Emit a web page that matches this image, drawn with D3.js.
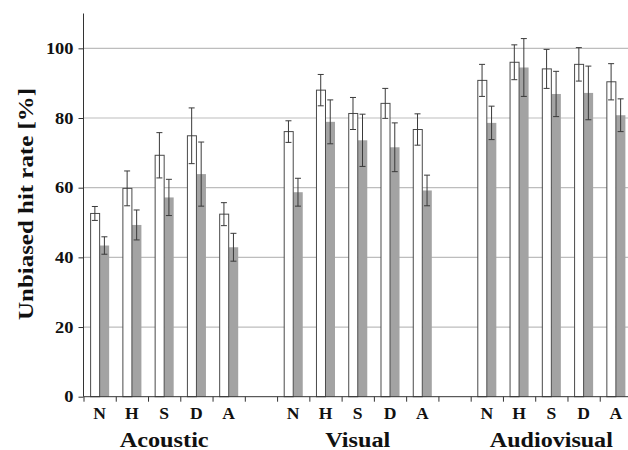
<!DOCTYPE html>
<html>
<head>
<meta charset="utf-8">
<script src="https://cdn.jsdelivr.net/npm/d3@7"></script>
<style>
  body { margin: 0; background: #fff; }
  text { font-family: "Liberation Serif", "Times New Roman", serif; font-weight: bold; fill: #111; }
</style>
</head>
<body>
<div class="plot"></div>
<script>
// data
const groups = ["Acoustic", "Visual", "Audiovisual"];
const categories = ["N", "H", "S", "D", "A"];
const yTicks = [0, 20, 40, 60, 80, 100];

// white bars (per group, N H S D A)
const whiteMean = [
    [52.6, 59.8, 69.3, 74.9, 52.4],
    [76.1, 88.0, 81.3, 84.2, 76.7],
    [90.8, 96.0, 94.1, 95.4, 90.4]
];
const whiteErr = [
    [2.0, 5.0, 6.5, 8.0, 3.3],
    [3.1, 4.5, 4.6, 4.3, 4.5],
    [4.6, 5.0, 5.6, 4.8, 5.2]
];
// gray bars
const grayMean = [
    [43.4, 49.3, 57.2, 63.9, 42.9],
    [58.7, 78.9, 73.6, 71.6, 59.2],
    [78.6, 94.5, 86.9, 87.2, 80.8]
];
const grayErr = [
    [2.5, 4.3, 5.2, 9.2, 4.0],
    [4.0, 6.3, 7.5, 7.0, 4.4],
    [4.8, 8.3, 6.5, 7.7, 4.7]
];

const width = 628, height = 450;
const plot = {left: 83.5, right: 632, top: 13.5, bottom: 396.7};

// one band per category plus an empty band between groups
const slots = [];
groups.forEach((g, gi) => {
    categories.forEach(c => slots.push(g + "-" + c));
    if (gi < groups.length - 1) slots.push("gap" + gi);
});

const xScale = d3.scaleBand().domain(slots).range([plot.left, plot.right]).padding(0);
const bw = xScale.bandwidth();
const inner = d3.scaleBand().domain(["white", "gray"]).range([bw * 0.205, bw * 0.795]).padding(0);
const yScale = d3.scaleLinear().domain([0, 110]).range([plot.bottom, plot.top]);
const edgeScale = d3.scaleLinear().domain([0, slots.length]).range([plot.left, plot.right]);

const rows = [];
groups.forEach((g, gi) => {
    categories.forEach((c, ci) => {
        rows.push({slot: g + "-" + c, s: "gray", v: grayMean[gi][ci], e: grayErr[gi][ci]});
        rows.push({slot: g + "-" + c, s: "white", v: whiteMean[gi][ci], e: whiteErr[gi][ci]});
    });
});

const svg = d3.select('.plot')
    .append('svg')
    .attr('width', width)
    .attr('height', height);

// gridlines
svg.append('g')
    .selectAll('line')
    .data(yTicks.filter(d => d > 0))
    .enter().append('line')
    .attr('x1', plot.left).attr('x2', width)
    .attr('y1', d => yScale(d)).attr('y2', d => yScale(d))
    .attr('stroke', '#bdbdbd')
    .attr('stroke-width', 1.2);

// bars
const bars = svg.append('g').selectAll('g')
    .data(rows)
    .enter().append('g')
    .attr('transform', d => `translate(${xScale(d.slot) + inner(d.s)},0)`);

bars.append('rect')
    .attr('x', d => d.s === "white" ? 0.5 : 0)
    .attr('width', d => d.s === "white" ? inner.bandwidth() - 0.5 : inner.bandwidth())
    .attr('y', d => yScale(d.v))
    .attr('height', d => yScale(0) - yScale(d.v))
    .attr('fill', d => d.s === "white" ? '#fff' : '#a3a3a3')
    .attr('stroke', d => d.s === "white" ? '#4a4a4a' : 'none')
    .attr('stroke-width', 1);

// error bars
const cx = inner.bandwidth() / 2;
bars.append('line')
    .attr('x1', cx).attr('x2', cx)
    .attr('y1', d => yScale(d.v + d.e)).attr('y2', d => yScale(d.v - d.e))
    .attr('stroke', '#3a3a3a').attr('stroke-width', 1);
bars.selectAll('.cap')
    .data(d => [d.v + d.e, d.v - d.e])
    .enter().append('line')
    .attr('class', 'cap')
    .attr('x1', cx - 3).attr('x2', cx + 3)
    .attr('y1', d => yScale(d)).attr('y2', d => yScale(d))
    .attr('stroke', '#3a3a3a').attr('stroke-width', 1);

// Y axis
const yAxis = svg.append('g')
    .attr('transform', `translate(${plot.left},0)`)
    .call(d3.axisLeft(yScale).tickValues(yTicks).tickSize(5).tickPadding(5));
yAxis.select('.domain').attr('d', `M0,${plot.top}V${plot.bottom}`).attr('stroke', '#333');
yAxis.selectAll('.tick line').attr('stroke', '#333');
yAxis.selectAll('.tick text')
    .style('font-size', '16px')
    .style('font-family', '"Liberation Serif", serif')
    .style('font-weight', 'bold')
    .attr('fill', '#111')
    .attr('textLength', d => String(d).length * 9.2)
    .attr('lengthAdjust', 'spacingAndGlyphs');

// X axis: ticks at band edges
const xAxis = svg.append('g')
    .attr('transform', `translate(0,${plot.bottom})`)
    .call(d3.axisBottom(edgeScale).tickValues(d3.range(slots.length + 1)).tickSize(5).tickFormat(''));
xAxis.select('.domain').attr('d', `M${plot.left},0H${width}`).attr('stroke', '#333');
xAxis.selectAll('.tick line').attr('stroke', '#333');

// category labels
svg.append('g').selectAll('text')
    .data(slots.filter(s => !s.startsWith('gap')))
    .enter().append('text')
    .attr('x', d => xScale(d) + bw / 2)
    .attr('y', 419.5)
    .attr('text-anchor', 'middle')
    .style('font-size', '16px')
    .attr('transform', d => `translate(${xScale(d) + bw / 2},0) scale(1.1,1) translate(${-(xScale(d) + bw / 2)},0)`)
    .text(d => d.split('-')[1]);

// group labels
const groupWidth = {Acoustic: 89, Visual: 65, Audiovisual: 123};
svg.append('g').selectAll('text')
    .data(groups)
    .enter().append('text')
    .attr('x', g => (xScale(g + "-N") + xScale(g + "-A") + bw) / 2)
    .attr('y', 446.5)
    .attr('text-anchor', 'middle')
    .style('font-size', '20px')
    .attr('textLength', g => groupWidth[g])
    .attr('lengthAdjust', 'spacingAndGlyphs')
    .text(d => d);

// y label
svg.append('text')
    .attr('transform', `translate(33,${(88 + 320) / 2}) rotate(-90)`)
    .attr('text-anchor', 'middle')
    .style('font-size', '22px')
    .attr('textLength', 232)
    .attr('lengthAdjust', 'spacingAndGlyphs')
    .text('Unbiased hit rate [%]');
</script>
</body>
</html>
